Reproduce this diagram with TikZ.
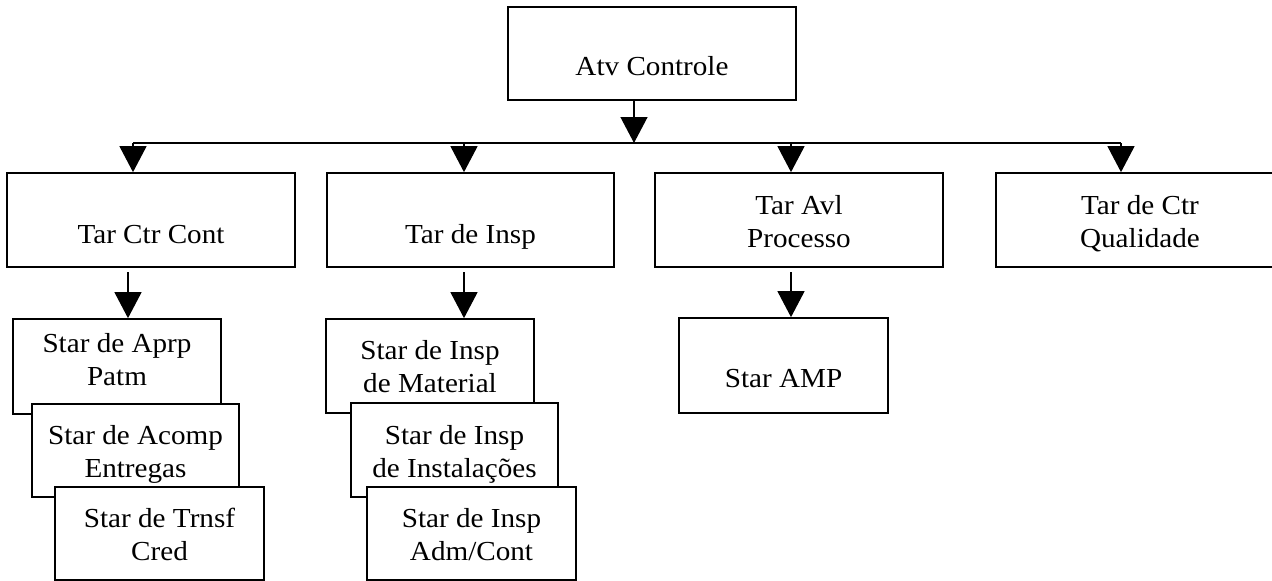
\documentclass[tikz,border=0pt]{standalone}
\usepackage{fontspec}
\setmainfont{Liberation Serif}[FakeStretch=1.06]
\usetikzlibrary{arrows.meta}
\begin{document}
\begin{tikzpicture}[x=1pt,y=-1pt,
  box/.style={draw, line width=1.7pt, fill=white, rectangle, inner sep=0pt},
  lbl/.style={font=\fontsize{27.5}{33}\selectfont, align=center, anchor=base, inner sep=0pt},
  arr/.style={line width=1.3pt, -{Triangle[width=27pt,length=26pt]}},
  bus/.style={line width=1.2pt}]
\useasboundingbox (0,0) rectangle (1272,581);
\clip (0,0) rectangle (1272,581);

% top level (label anchors sit on the baseline of the last line)
\node[box, minimum width=288pt, minimum height=93pt] (top) at (652,53.5) {};
\node[lbl] (l-top) at (652,75) {Atv Controle};

% second level
\node[box, minimum width=288pt, minimum height=94pt] (cc) at (151,220) {};
\node[lbl] (l-cc) at (151,243) {Tar Ctr Cont};
\node[box, minimum width=287pt, minimum height=94pt] (insp) at (470.5,220) {};
\node[lbl] (l-insp) at (470.5,243) {Tar de Insp};
\node[box, minimum width=288pt, minimum height=94pt] (avl) at (799,220) {};
\node[lbl] (l-avl) at (799,247) {Tar Avl\\Processo};
\node[box, minimum width=288pt, minimum height=94pt] (qual) at (1140,220) {};
\node[lbl] (l-qual) at (1140,247) {Tar de Ctr\\Qualidade};

% third level, stacked cards under Tar Ctr Cont
\node[box, minimum width=208pt, minimum height=95pt] (aprp) at (117,366.5) {};
\node[lbl] (l-aprp) at (117,385) {Star de Aprp\\Patm};
\node[box, minimum width=207pt, minimum height=93pt] (acomp) at (135.5,450.5) {};
\node[lbl] (l-acomp) at (135.5,477) {Star de Acomp\\Entregas};
\node[box, minimum width=209pt, minimum height=93pt] (trnsf) at (159.5,533.5) {};
\node[lbl] (l-trnsf) at (159.5,560) {Star de Trnsf\\Cred};

% stacked cards under Tar de Insp
\node[box, minimum width=208pt, minimum height=94pt] (mat) at (430,366) {};
\node[lbl] (l-mat) at (430,392) {Star de Insp\\de Material};
\node[box, minimum width=207pt, minimum height=94pt] (inst) at (454.5,450) {};
\node[lbl] (l-inst) at (454.5,477) {Star de Insp\\de Instalações};
\node[box, minimum width=209pt, minimum height=93pt] (adm) at (471.5,533.5) {};
\node[lbl] (l-adm) at (471.5,560) {Star de Insp\\Adm/Cont};

% under Tar Avl Processo
\node[box, minimum width=209pt, minimum height=95pt] (amp) at (783.5,365.5) {};
\node[lbl] (l-amp) at (783.5,387) {Star AMP};

% connector columns
\coordinate (c0) at (634,0);
\coordinate (busL) at (133,143);
\coordinate (c2) at (464,143);
\coordinate (c3) at (791,143);
\coordinate (busR) at (1121,143);
\coordinate (d1) at (128,272);
\coordinate (d2) at (464,272);
\coordinate (d3) at (791,272);

% distribution bus
\draw[bus] (busL) -- (busR);
\draw[arr] (top.south -| c0) -- (c0 |- busL);
\draw[arr] (busL) -- (busL |- cc.north);
\draw[arr] (c2) -- (c2 |- insp.north);
\draw[arr] (c3) -- (c3 |- avl.north);
\draw[arr] (busR) -- (busR |- qual.north);

% down to the sub-tasks
\draw[arr] (d1) -- (d1 |- aprp.north);
\draw[arr] (d2) -- (d2 |- mat.north);
\draw[arr] (d3) -- (d3 |- amp.north);
\end{tikzpicture}
\end{document}
